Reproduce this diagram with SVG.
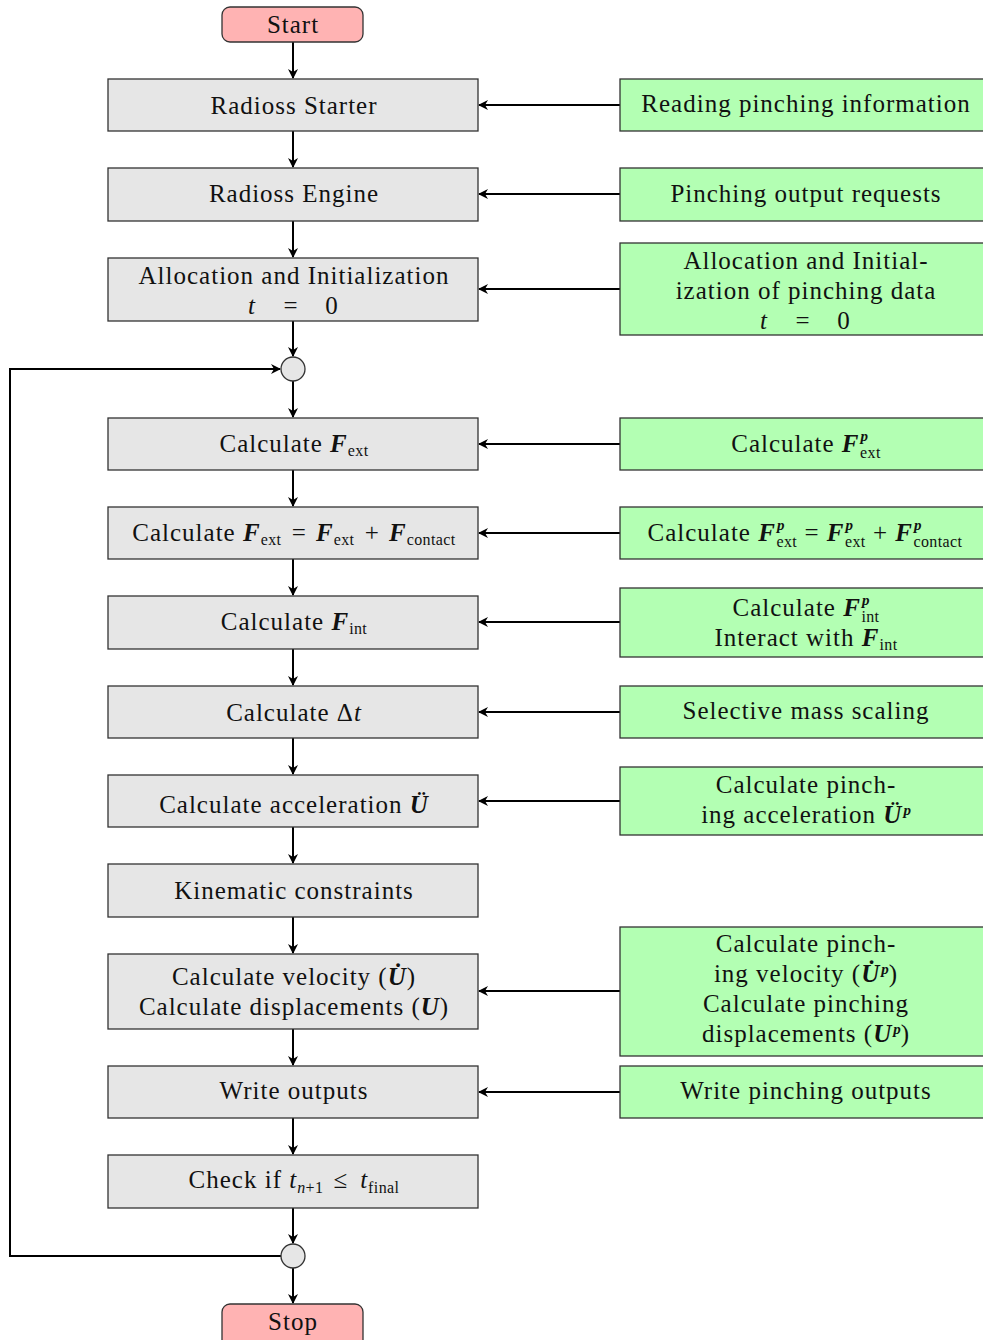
<svg xmlns="http://www.w3.org/2000/svg" width="983" height="1340" viewBox="0 0 983 1340">
<style>
text{font-size:25px;fill:#111;text-anchor:middle;letter-spacing:1px}
.g{fill:#e6e6e6;stroke:#333;stroke-width:1.3}
.p{fill:#b3ffb3;stroke:#333;stroke-width:1.3}
.r{fill:#ffb3b3;stroke:#333;stroke-width:1.3}
.c{fill:#e6e6e6;stroke:#333;stroke-width:1.3}
.e{stroke:#000;stroke-width:2;fill:none}
.b{font-weight:bold;font-style:italic}
.i{font-style:italic}
.s{font-size:16px;letter-spacing:0.4px}
.u{font-size:15px;font-weight:bold;font-style:italic;letter-spacing:0}
</style>
<defs>
<marker id="ah" viewBox="0 0 10 10" refX="9" refY="5" markerWidth="5" markerHeight="5" orient="auto-start-reverse">
<path d="M0,0 L10,5 L0,10 L3,5 Z" fill="#000"/>
</marker>
</defs>

<g id="connectors">
<line class="e" x1="293" y1="42" x2="293" y2="78" marker-end="url(#ah)"/>
<line class="e" x1="293" y1="131" x2="293" y2="167" marker-end="url(#ah)"/>
<line class="e" x1="293" y1="221" x2="293" y2="257" marker-end="url(#ah)"/>
<line class="e" x1="293" y1="321" x2="293" y2="356" marker-end="url(#ah)"/>
<line class="e" x1="293" y1="381" x2="293" y2="417" marker-end="url(#ah)"/>
<line class="e" x1="293" y1="470" x2="293" y2="506" marker-end="url(#ah)"/>
<line class="e" x1="293" y1="559" x2="293" y2="595" marker-end="url(#ah)"/>
<line class="e" x1="293" y1="649" x2="293" y2="685" marker-end="url(#ah)"/>
<line class="e" x1="293" y1="738" x2="293" y2="774" marker-end="url(#ah)"/>
<line class="e" x1="293" y1="827" x2="293" y2="863" marker-end="url(#ah)"/>
<line class="e" x1="293" y1="917" x2="293" y2="953" marker-end="url(#ah)"/>
<line class="e" x1="293" y1="1029" x2="293" y2="1065" marker-end="url(#ah)"/>
<line class="e" x1="293" y1="1118" x2="293" y2="1154" marker-end="url(#ah)"/>
<line class="e" x1="293" y1="1208" x2="293" y2="1243" marker-end="url(#ah)"/>
<line class="e" x1="293" y1="1268" x2="293" y2="1303" marker-end="url(#ah)"/>
<path class="e" d="M281,1256 H10 V369 H280" marker-end="url(#ah)"/>
<line class="e" x1="620" y1="105" x2="479" y2="105" marker-end="url(#ah)"/>
<line class="e" x1="620" y1="194" x2="479" y2="194" marker-end="url(#ah)"/>
<line class="e" x1="620" y1="289" x2="479" y2="289" marker-end="url(#ah)"/>
<line class="e" x1="620" y1="444" x2="479" y2="444" marker-end="url(#ah)"/>
<line class="e" x1="620" y1="533" x2="479" y2="533" marker-end="url(#ah)"/>
<line class="e" x1="620" y1="622" x2="479" y2="622" marker-end="url(#ah)"/>
<line class="e" x1="620" y1="712" x2="479" y2="712" marker-end="url(#ah)"/>
<line class="e" x1="620" y1="801" x2="479" y2="801" marker-end="url(#ah)"/>
<line class="e" x1="620" y1="991" x2="479" y2="991" marker-end="url(#ah)"/>
<line class="e" x1="620" y1="1092" x2="479" y2="1092" marker-end="url(#ah)"/>
</g>

<g font-family="'Liberation Serif', 'DejaVu Serif', serif">
<g id="start"><rect class="r" x="222" y="7" width="141" height="35" rx="8"/><text x="293" y="33">Start</text></g>
<g id="starter"><rect class="g" x="108" y="79" width="370" height="52"/><text x="294" y="114">Radioss Starter</text></g>
<g id="engine"><rect class="g" x="108" y="168" width="370" height="53"/><text x="294" y="202">Radioss Engine</text></g>
<g id="alloc"><rect class="g" x="108" y="258" width="370" height="63"/><text x="294" y="284">Allocation and Initialization</text>
<text x="252" y="314" class="i">t</text><text x="291" y="314">=</text><text x="332" y="314">0</text></g>
<g id="merge1"><circle class="c" cx="293" cy="369" r="12"/></g>
<g id="fext"><rect class="g" x="108" y="418" width="370" height="52"/><text x="294" y="452">Calculate <tspan class="b">F</tspan><tspan class="s" dy="4">ext</tspan></text></g>
<g id="fcontact"><rect class="g" x="108" y="507" width="370" height="52"/><text x="294" y="541">Calculate <tspan class="b">F</tspan><tspan class="s" dy="4">ext</tspan><tspan dy="-4" dx="3"> = </tspan><tspan class="b" dx="2">F</tspan><tspan class="s" dy="4">ext</tspan><tspan dy="-4" dx="3"> + </tspan><tspan class="b" dx="2">F</tspan><tspan class="s" dy="4">contact</tspan></text></g>
<g id="fint"><rect class="g" x="108" y="596" width="370" height="53"/><text x="294" y="630">Calculate <tspan class="b">F</tspan><tspan class="s" dy="4">int</tspan></text></g>
<g id="dt"><rect class="g" x="108" y="686" width="370" height="52"/><text x="294" y="721">Calculate Δ<tspan class="i">t</tspan></text></g>
<g id="acc"><rect class="g" x="108" y="775" width="370" height="52"/><text x="294" y="813">Calculate acceleration <tspan class="b">Ü</tspan></text></g>
<g id="kin"><rect class="g" x="108" y="864" width="370" height="53"/><text x="294" y="899">Kinematic constraints</text></g>
<g id="vel"><rect class="g" x="108" y="954" width="370" height="75"/><text x="294" y="985">Calculate velocity (<tspan class="b">U̇</tspan>)</text><text x="294" y="1015">Calculate displacements (<tspan class="b">U</tspan>)</text></g>
<g id="write"><rect class="g" x="108" y="1066" width="370" height="52"/><text x="294" y="1099">Write outputs</text></g>
<g id="check"><rect class="g" x="108" y="1155" width="370" height="53"/><text x="294" y="1188">Check if <tspan class="i">t</tspan><tspan class="s i" dy="5">n</tspan><tspan class="s">+1</tspan><tspan dy="-5" dx="10">≤</tspan><tspan class="i" dx="12">t</tspan><tspan class="s" dy="5">final</tspan></text></g>
<g id="merge2"><circle class="c" cx="293" cy="1256" r="12"/></g>
<g id="stop"><rect class="r" x="222" y="1304" width="141" height="45" rx="8"/><text x="293" y="1330">Stop</text></g>

<g id="p_read"><rect class="p" x="620" y="79" width="375" height="52"/><text x="806" y="112">Reading pinching information</text></g>
<g id="p_out"><rect class="p" x="620" y="168" width="375" height="53"/><text x="806" y="202">Pinching output requests</text></g>
<g id="p_alloc"><rect class="p" x="620" y="243" width="375" height="92"/><text x="806" y="269">Allocation and Initial-</text><text x="806" y="299">ization of pinching data</text>
<text x="764" y="329" class="i">t</text><text x="803" y="329">=</text><text x="844" y="329">0</text></g>
<g id="p_fext"><rect class="p" x="620" y="418" width="375" height="52"/><text x="806" y="452">Calculate <tspan class="b">F</tspan><tspan class="u" dx="1" dy="-11">p</tspan><tspan class="s" dx="-8" dy="17">ext</tspan></text></g>
<g id="p_fcontact"><rect class="p" x="620" y="507" width="375" height="52"/><text x="805" y="541">Calculate <tspan class="b">F</tspan><tspan class="u" dx="1" dy="-11">p</tspan><tspan class="s" dx="-8" dy="17">ext</tspan><tspan dy="-6"> = </tspan><tspan class="b">F</tspan><tspan class="u" dx="1" dy="-11">p</tspan><tspan class="s" dx="-8" dy="17">ext</tspan><tspan dy="-6"> + </tspan><tspan class="b">F</tspan><tspan class="u" dx="1" dy="-11">p</tspan><tspan class="s" dx="-8" dy="17">contact</tspan></text></g>
<g id="p_fint"><rect class="p" x="620" y="588" width="375" height="69"/><text x="806" y="616">Calculate <tspan class="b">F</tspan><tspan class="u" dx="1" dy="-11">p</tspan><tspan class="s" dx="-8" dy="17">int</tspan></text><text x="806" y="646">Interact with <tspan class="b">F</tspan><tspan class="s" dy="4">int</tspan></text></g>
<g id="p_mass"><rect class="p" x="620" y="686" width="375" height="52"/><text x="806" y="719">Selective mass scaling</text></g>
<g id="p_acc"><rect class="p" x="620" y="767" width="375" height="68"/><text x="806" y="793">Calculate pinch-</text><text x="806" y="823">ing acceleration <tspan class="b">Ü</tspan><tspan class="u" dx="1" dy="-8">p</tspan></text></g>
<g id="p_vel"><rect class="p" x="620" y="927" width="375" height="129"/><text x="806" y="952">Calculate pinch-</text><text x="806" y="982">ing velocity (<tspan class="b">U̇</tspan><tspan class="u" dx="1" dy="-8">p</tspan><tspan dy="8">)</tspan></text><text x="806" y="1012">Calculate pinching</text><text x="806" y="1042">displacements (<tspan class="b">U</tspan><tspan class="u" dx="1" dy="-8">p</tspan><tspan dy="8">)</tspan></text></g>
<g id="p_write"><rect class="p" x="620" y="1066" width="375" height="52"/><text x="806" y="1099">Write pinching outputs</text></g>
</g>
</svg>
